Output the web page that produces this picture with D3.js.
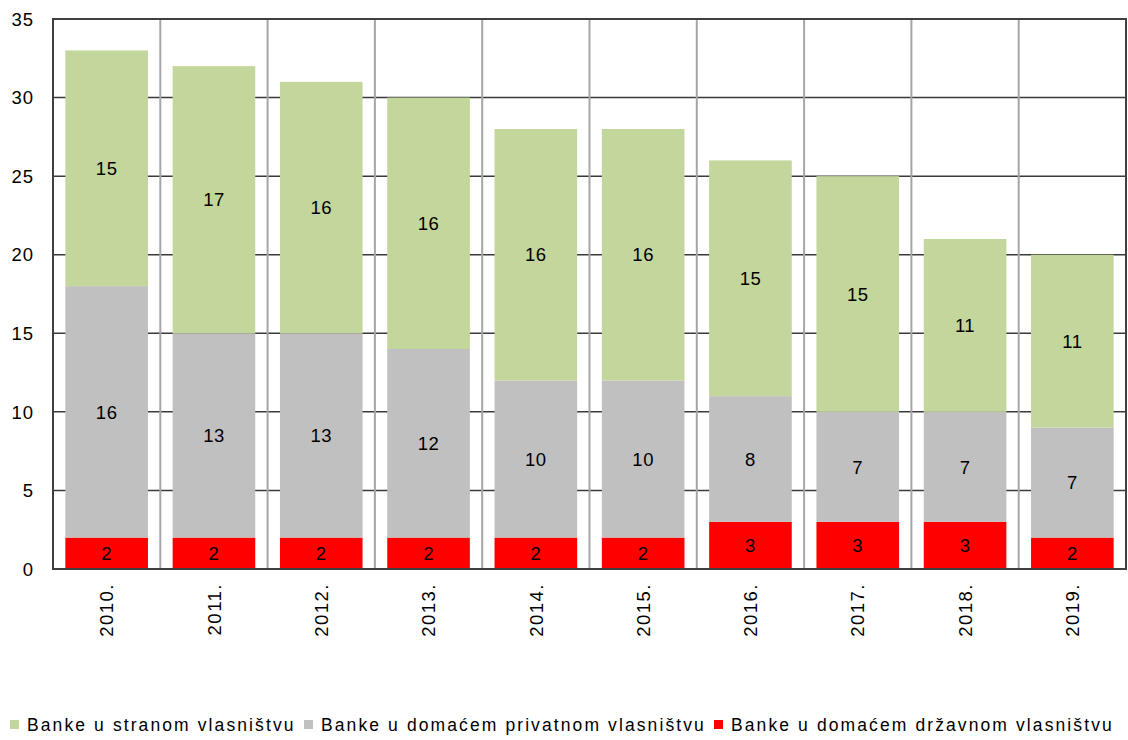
<!DOCTYPE html>
<html>
<head>
<meta charset="utf-8">
<script src="https://cdn.jsdelivr.net/npm/d3@7"></script>
<style>
  body { margin: 0; background: #fff; }
  text { font-family: "Liberation Sans", Arial, sans-serif; }
</style>
</head>
<body>
<script>
var years = ["2010.", "2011.", "2012.", "2013.", "2014.", "2015.", "2016.", "2017.", "2018.", "2019."];
var stateOwned = [2, 2, 2, 2, 2, 2, 3, 3, 3, 2];
var domesticPrivate = [16, 13, 13, 12, 10, 10, 8, 7, 7, 7];
var foreignOwned = [15, 17, 16, 16, 16, 16, 15, 15, 11, 11];
var seriesNames = ["Banke u stranom vlasništvu", "Banke u domaćem privatnom vlasništvu", "Banke u domaćem državnom vlasništvu"];
var seriesColors = ["#c3d69b", "#c0c0c0", "#ff0000"];
var yTicks = [0, 5, 10, 15, 20, 25, 30, 35];

var width = 1128, height = 740;
var margin = {top: 19, right: 2, bottom: 171, left: 53};

var svg = d3.select("body").append("svg")
    .attr("width", width)
    .attr("height", height);

var x = d3.scaleBand()
    .domain(years)
    .range([margin.left, width - margin.right])
    .paddingInner(0.23)
    .paddingOuter(0.115);

var y = d3.scaleLinear()
    .domain([0, 35])
    .range([height - margin.bottom, margin.top]);

// stacked data, bottom to top: state, private, foreign
var table = years.map((yr, i) => ({
    year: yr,
    state: stateOwned[i],
    priv: domesticPrivate[i],
    foreign: foreignOwned[i]
}));
var keys = ["state", "priv", "foreign"];
var keyColor = {state: seriesColors[2], priv: seriesColors[1], foreign: seriesColors[0]};
var stacked = d3.stack().keys(keys)(table);

// horizontal gridlines
svg.append("g")
    .selectAll("line")
    .data(yTicks)
    .join("line")
    .attr("x1", margin.left)
    .attr("x2", width - margin.right)
    .attr("y1", d => y(d))
    .attr("y2", d => y(d))
    .attr("stroke", "#3a3a3a")
    .attr("stroke-width", 1.5);

// vertical gridlines at category boundaries
var step = x.step();
svg.append("g")
    .selectAll("line")
    .data(years.slice(1))
    .join("line")
    .attr("x1", d => x(d) - x.paddingInner() * step / 2)
    .attr("x2", d => x(d) - x.paddingInner() * step / 2)
    .attr("y1", y(35))
    .attr("y2", y(0))
    .attr("stroke", "#a6a6a6")
    .attr("stroke-width", 2);

// bars
var layers = svg.append("g")
    .selectAll("g")
    .data(stacked)
    .join("g")
    .attr("fill", d => keyColor[d.key]);

layers.selectAll("rect")
    .data(d => d)
    .join("rect")
    .attr("x", d => x(d.data.year))
    .attr("width", x.bandwidth())
    .attr("y", d => y(d[1]))
    .attr("height", d => y(d[0]) - y(d[1]));

// value labels
layers.selectAll("text")
    .data(d => d.map(v => Object.assign({}, v, {key: d.key})))
    .join("text")
    .attr("x", d => x(d.data.year) + x.bandwidth() / 2)
    .attr("y", d => y((d[0] + d[1]) / 2))
    .attr("dy", "0.36em")
    .attr("text-anchor", "middle")
    .attr("font-size", 18.5)
    .attr("letter-spacing", 0.5)
    .attr("fill", "#000")
    .text(d => d.data[d.key]);

// plot border
svg.append("rect")
    .attr("x", margin.left)
    .attr("y", margin.top)
    .attr("width", width - margin.right - margin.left)
    .attr("height", height - margin.bottom - margin.top)
    .attr("fill", "none")
    .attr("stroke", "#404040")
    .attr("stroke-width", 2);

// y tick labels
svg.append("g")
    .selectAll("text")
    .data(yTicks)
    .join("text")
    .attr("x", 34)
    .attr("y", d => y(d))
    .attr("dy", "0.36em")
    .attr("text-anchor", "end")
    .attr("font-size", 18.5)
    .attr("letter-spacing", 1)
    .attr("fill", "#000")
    .text(d => d);

// x tick labels, rotated
svg.append("g")
    .selectAll("text")
    .data(years)
    .join("text")
    .attr("transform", d => `translate(${x(d) + x.bandwidth() / 2},${y(0) + 14}) rotate(-90)`)
    .attr("dy", "0.36em")
    .attr("text-anchor", "end")
    .attr("font-size", 18.5)
    .attr("letter-spacing", 1.5)
    .attr("fill", "#000")
    .text(d => d);

// legend
var legendStarts = [10, 304, 714];
var legend = svg.append("g");
seriesNames.forEach((name, i) => {
    var g = legend.append("g").attr("transform", `translate(${legendStarts[i]},725)`);
    g.append("rect")
        .attr("x", 0)
        .attr("y", -5)
        .attr("width", 9)
        .attr("height", 9)
        .attr("fill", seriesColors[i]);
    g.append("text")
        .attr("x", 17)
        .attr("dy", "0.36em")
        .attr("font-size", 17.5)
        .attr("letter-spacing", 2.1)
        .attr("fill", "#000")
        .text(name);
});
</script>
</body>
</html>
